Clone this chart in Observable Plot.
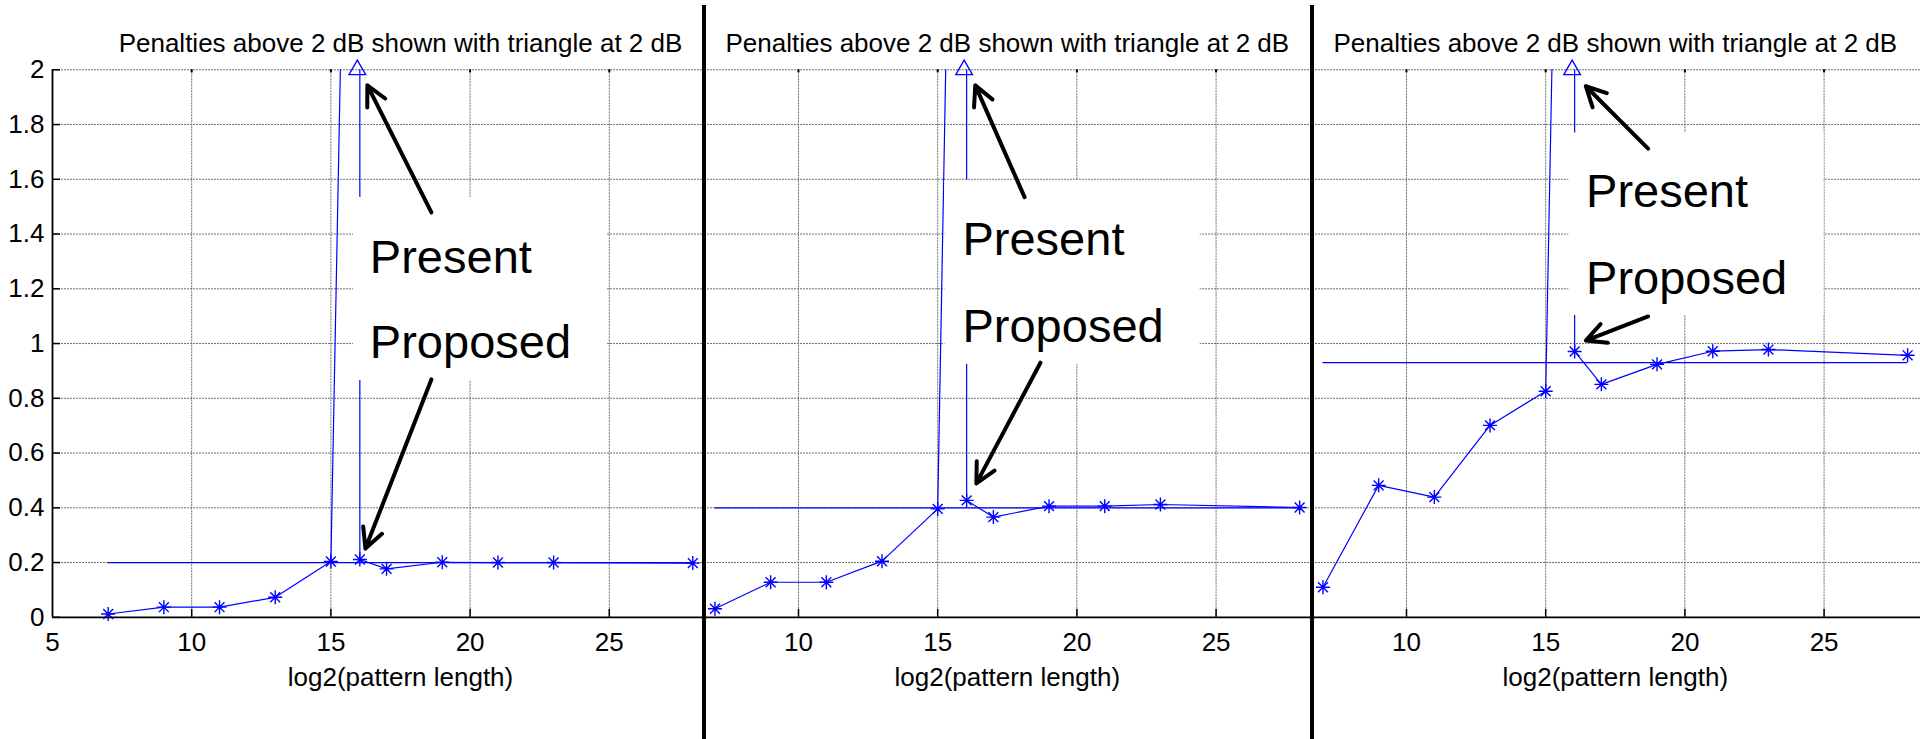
<!DOCTYPE html>
<html>
<head>
<meta charset="utf-8">
<script src="https://cdn.jsdelivr.net/npm/d3@7"></script>
<script src="https://cdn.jsdelivr.net/npm/@observablehq/plot@0.6"></script>
<style>
  html, body { margin: 0; padding: 0; background: #fff; }
  #chart { position: relative; width: 1920px; height: 739px; overflow: hidden; background: #fff;
           font-family: "Liberation Sans", Arial, Helvetica, sans-serif; }
  .panel { position: absolute; top: 0; }
  .divider { position: absolute; top: 5px; height: 734px; width: 4px; background: #000; }
</style>
</head>
<body>
<div id="chart"></div>
<script>
// ---------------- data ----------------
const xPoints   = [7, 9, 11, 13, 15, 16.04, 16.04, 17, 19, 21, 23, 28];
const penaltyA  = [0.012, 0.037, 0.037, 0.073, 0.204, 5.7, 0.211, 0.177, 0.201, 0.200, 0.200, 0.198];
const penaltyB  = [0.031, 0.128, 0.128, 0.205, 0.396, 6.2, 0.427, 0.366, 0.406, 0.406, 0.412, 0.401];
const penaltyC  = [0.110, 0.482, 0.439, 0.701, 0.826, 6.3, 0.971, 0.851, 0.924, 0.972, 0.978, 0.957];
const refLevels = [0.2, 0.4, 0.93];
const refRange  = [7, 28];
const clipLevel = 2;          // penalties above this are shown with a triangle
const triangleX = 15.95;

const titleText = "Penalties above 2 dB shown with triangle at 2 dB";
const xLabel    = "log2(pattern length)";
const labelTop  = "Present";
const labelBot  = "Proposed";

const yTicks      = [0, 0.2, 0.4, 0.6, 0.8, 1, 1.2, 1.4, 1.6, 1.8, 2];
const yTickLabels = ["0", "0.2", "0.4", "0.6", "0.8", "1", "1.2", "1.4", "1.6", "1.8", "2"];
const xTicksFirst = [5, 10, 15, 20, 25];
const xTicksRest  = [10, 15, 20, 25];
const xTickLabels = {5: "5", 10: "10", 15: "15", 20: "20", 25: "25"};

// annotation placement (data coordinates of each panel)
const boxes = [
  {x1: 15.81, x2: 24.94, y1: 0.865, y2: 1.534},
  {x1: 15.26, x2: 24.43, y1: 0.924, y2: 1.596},
  {x1: 15.83, x2: 25.00, y1: 1.103, y2: 1.769}
];
const labelPos = [
  {x: 16.40, yTop: 1.259, yBot: 0.946},
  {x: 15.89, yTop: 1.322, yBot: 1.005},
  {x: 16.45, yTop: 1.498, yBot: 1.182}
];
const arrows = [
  [{x1: 18.61, y1: 1.479, x2: 16.31, y2: 1.943}, {x1: 18.61, y1: 0.869, x2: 16.24, y2: 0.251}],
  [{x1: 18.12, y1: 1.535, x2: 16.35, y2: 1.943}, {x1: 18.69, y1: 0.930, x2: 16.39, y2: 0.489}],
  [{x1: 18.68, y1: 1.712, x2: 16.44, y2: 1.940}, {x1: 18.68, y1: 1.099, x2: 16.44, y2: 1.011}]
];
const titleX = 17.5;

// ---------------- layout ----------------
const H = 739, MT = 69.3, MB = 122.2;
const panels = [
  {left: 0,    width: 704, marginLeft: 52, domain: [5, 28.42],     values: penaltyA, ref: refLevels[0], ticks: xTicksFirst, yAxis: true},
  {left: 704,  width: 608, marginLeft: 0,  domain: [6.624, 28.463], values: penaltyB, ref: refLevels[1], ticks: xTicksRest,  yAxis: false},
  {left: 1312, width: 608, marginLeft: 0,  domain: [6.624, 28.463], values: penaltyC, ref: refLevels[2], ticks: xTicksRest,  yAxis: false}
];

const asterisk = {
  draw(context, size) {
    const r = Math.sqrt(size / Math.PI);
    const d = r * Math.SQRT1_2;
    context.moveTo(-r, 0); context.lineTo(r, 0);
    context.moveTo(0, -r); context.lineTo(0, r);
    context.moveTo(-d, -d); context.lineTo(d, d);
    context.moveTo(-d, d); context.lineTo(d, -d);
  }
};

const BLUE = "#0000ff";
const GRID = "#6e6e6e";
const chart = document.getElementById("chart");

panels.forEach((p, k) => {
  const rows = xPoints.map((x, i) => ({x, y: p.values[i]}));
  const frameH = H - MT - MB;
  const frameW = p.width - p.marginLeft;
  const gridX = p.ticks.filter(t => t > p.domain[0]);
  const marks = [
    Plot.ruleY(yTicks.filter(t => t > 0), {y: d => d, stroke: GRID, strokeDasharray: "2,1"}),
    Plot.ruleX(gridX, {x: d => d, stroke: GRID, strokeDasharray: "2,1"}),
    Plot.ruleY([p.ref], {y: d => d, x1: refRange[0], x2: refRange[1], stroke: BLUE, strokeWidth: 1.2}),
    Plot.line(rows, {x: "x", y: "y", stroke: BLUE, strokeWidth: 1.2, clip: true}),
    Plot.dot(rows, {x: "x", y: "y", filter: d => d.y <= clipLevel, symbol: asterisk, r: 7,
                    stroke: BLUE, fill: "none", strokeWidth: 1.4}),
    Plot.dot([{x: triangleX, y: clipLevel}], {x: "x", y: "y", symbol: "triangle", r: 6.2,
                    stroke: BLUE, fill: "none", strokeWidth: 1.3}),
    Plot.rect([boxes[k]], {x1: "x1", x2: "x2", y1: "y1", y2: "y2", fill: "white"}),
    // inward tick marks
    Plot.ruleX(gridX, {x: d => d, insetTop: frameH - 8, stroke: "black", strokeWidth: 1.5}),
    Plot.ruleX(gridX, {x: d => d, insetBottom: frameH - 3, stroke: "black", strokeWidth: 2}),
    // axis lines
    Plot.ruleY([0], {y: d => d, stroke: "black", strokeWidth: 1.8}),
    // annotation labels
    Plot.text([labelTop], {x: labelPos[k].x, y: labelPos[k].yTop, text: d => d, textAnchor: "start",
                    lineAnchor: "bottom", fontSize: 47, fill: "black"}),
    Plot.text([labelBot], {x: labelPos[k].x, y: labelPos[k].yBot, text: d => d, textAnchor: "start",
                    lineAnchor: "bottom", fontSize: 47, fill: "black"}),
    Plot.arrow(arrows[k], {x1: "x1", y1: "y1", x2: "x2", y2: "y2", stroke: "black", strokeWidth: 4,
                    headLength: 8.3, headAngle: 54}),
    // title and x label
    Plot.text([titleText], {x: titleX, y: clipLevel, text: d => d, dy: -17.6, lineAnchor: "bottom",
                    fontSize: 26, fill: "black"}),
    Plot.text([xLabel], {x: titleX, y: 0, text: d => d, dy: 68.2, lineAnchor: "bottom",
                    fontSize: 26, fill: "black"})
  ];
  if (p.yAxis) {
    marks.push(Plot.ruleY(yTicks, {y: d => d, insetRight: frameW - 8, stroke: "black", strokeWidth: 1.5}));
    marks.push(Plot.ruleX([p.domain[0]], {x: d => d, stroke: "black", strokeWidth: 1.8}));
  }
  const svg = Plot.plot({
    width: p.width,
    height: H,
    marginTop: MT,
    marginBottom: MB,
    marginLeft: p.marginLeft,
    marginRight: 0,
    style: {fontSize: "26px", fontFamily: '"Liberation Sans", Arial, Helvetica, sans-serif', color: "black", background: "white"},
    x: {domain: p.domain, ticks: p.ticks, tickFormat: d => xTickLabels[d], tickSize: 0, tickPadding: 15, label: null},
    y: p.yAxis
      ? {domain: [0, 2], ticks: yTicks, tickFormat: d => yTickLabels[yTicks.indexOf(d)], tickSize: 0, tickPadding: 8, label: null}
      : {domain: [0, 2], axis: null},
    marks
  });
  const div = document.createElement("div");
  div.className = "panel";
  div.style.left = p.left + "px";
  div.style.width = p.width + "px";
  div.appendChild(svg);
  chart.appendChild(div);
});

[701.7, 1309.5].forEach(x => {
  const d = document.createElement("div");
  d.className = "divider";
  d.style.left = x + "px";
  chart.appendChild(d);
});
</script>
</body>
</html>
